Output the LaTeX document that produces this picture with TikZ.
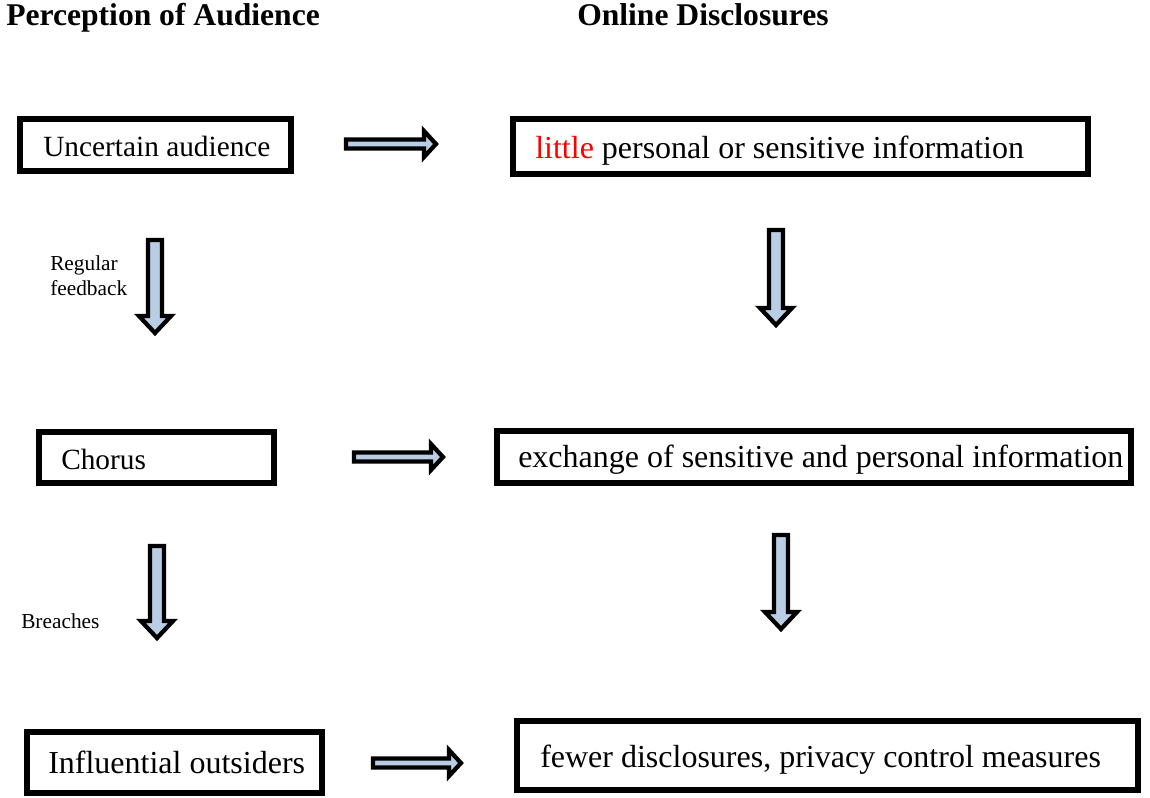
\documentclass[tikz,border=0pt]{standalone}
\usepackage{fontspec}
\setmainfont{Liberation Serif}
\usepackage{xcolor}
\definecolor{arrowfill}{HTML}{B9CDE5}
\begin{document}
\begin{tikzpicture}[x=0.75pt,y=-0.75pt,
  boxstyle/.style={draw=black,line width=5pt},
  arrowstyle/.style={draw=black,fill=arrowfill,line width=3.2pt,line join=miter},
  boxtext/.style={anchor=base west,inner sep=0pt,font=\fontsize{22}{26}\selectfont},
  bigtext/.style={anchor=base west,inner sep=0pt,font=\fontsize{24}{28}\selectfont},
  titletext/.style={anchor=base west,inner sep=0pt,font=\fontsize{23.7}{28}\selectfont\bfseries},
  labeltext/.style={anchor=base west,inner sep=0pt,font=\fontsize{16}{19}\selectfont},
  pics/harrow/.style={code={
    \draw[arrowstyle] (0,-4.5) -- (#1-12,-4.5) -- (#1-12,-13) -- (#1,0) -- (#1-12,13) -- (#1-12,4.5) -- (0,4.5) -- cycle;}},
  pics/varrow/.style={code={
    \draw[arrowstyle] (-7,0) -- (-7,#1-17) -- (-16,#1-17) -- (0,#1) -- (16,#1-17) -- (7,#1-17) -- (7,0) -- cycle;}}
]
\useasboundingbox (0,0) rectangle (1150,797);
% titles
\node[titletext] (t1) at (6,25) {Perception of Audience};
\node[titletext] (t2) at (577,25) {Online Disclosures};
% boxes
\draw[boxstyle] (20,119) rectangle (291,171);
\draw[boxstyle] (513,119) rectangle (1088,174);
\draw[boxstyle] (39,432) rectangle (274,483);
\draw[boxstyle] (497,431) rectangle (1131,483);
\draw[boxstyle] (27,732) rectangle (322,793);
\draw[boxstyle] (517,721) rectangle (1138,790);
% texts
\node[boxtext] (b1) at (43,156) {Uncertain audience};
\node[bigtext] (b2) at (535,158) {\textcolor{red}{little} personal or sensitive information};
\node[boxtext] (b3) at (61,469) {Chorus};
\node[bigtext] (b4) at (518,467) {exchange of sensitive and personal information};
\node[bigtext] (b5) at (48,773) {Influential outsiders};
\node[bigtext] (b6) at (540,767) {fewer disclosures, privacy control measures};
% labels
\node[labeltext] (l1) at (50,270) {Regular};
\node[labeltext] (l2) at (50,295) {feedback};
\node[labeltext] (l3) at (21,628) {Breaches};
% horizontal arrows
\pic at (346,144) {harrow=90};
\pic at (354,457) {harrow=89};
\pic at (373,763) {harrow=88};
% vertical arrows
\pic at (155,240) {varrow=93};
\pic at (776,230) {varrow=95};
\pic at (157,546) {varrow=92};
\pic at (781,535) {varrow=94};
\end{tikzpicture}
\end{document}
